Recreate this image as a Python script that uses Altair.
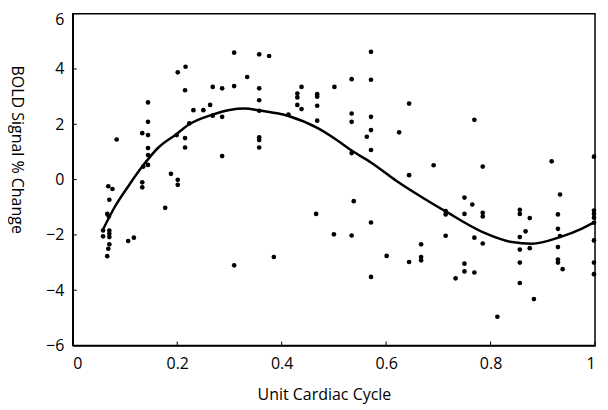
import altair as alt
import pandas as pd

# scatter points (unit cardiac cycle, BOLD % change)
pt_x = [0.058, 0.058, 0.070, 0.070, 0.070, 0.070, 0.068, 0.066, 0.066, 0.069,
        0.070, 0.068, 0.076, 0.084, 0.106, 0.117, 0.133, 0.133, 0.135, 0.144,
        0.144, 0.144, 0.133, 0.144, 0.144, 0.144, 0.177, 0.188, 0.201, 0.201,
        0.199, 0.215, 0.215, 0.223, 0.201, 0.216, 0.215, 0.231, 0.250, 0.263,
        0.268, 0.286, 0.268, 0.286, 0.286, 0.309, 0.309, 0.309, 0.334, 0.357,
        0.376, 0.357, 0.357, 0.357, 0.357, 0.357, 0.357, 0.385, 0.413, 0.430,
        0.430, 0.430, 0.438, 0.438, 0.468, 0.468, 0.468, 0.468, 0.466, 0.501,
        0.500, 0.534, 0.534, 0.534, 0.534, 0.534, 0.538, 0.571, 0.571, 0.571,
        0.571, 0.563, 0.571, 0.571, 0.571, 0.601, 0.625, 0.644, 0.644, 0.644,
        0.667, 0.667, 0.667, 0.691, 0.714, 0.714, 0.714, 0.733, 0.750, 0.750,
        0.750, 0.750, 0.765, 0.769, 0.769, 0.769, 0.785, 0.785, 0.785, 0.785,
        0.813, 0.856, 0.856, 0.856, 0.856, 0.856, 0.856, 0.867, 0.875, 0.875,
        0.883, 0.917, 0.933, 0.929, 0.929, 0.933, 0.929, 0.929, 0.929, 0.938,
        0.998, 0.998, 0.998, 0.998, 0.998, 0.998, 0.998, 0.998]
pt_y = [-1.84, -2.05, -1.84, -1.96, -2.08, -2.34, -2.50, -2.77, -1.24, -1.33,
        -0.73, -0.24, -0.34, 1.45, -2.22, -2.10, -0.10, -0.28, 0.47, 0.53,
        0.89, 1.14, 1.68, 1.61, 2.09, 2.79, -1.02, 0.21, -0.01, -0.19,
        1.61, 1.50, 1.16, 2.03, 3.88, 4.08, 3.23, 2.51, 2.51, 2.70,
        3.35, 3.30, 2.31, 2.27, 0.85, 4.59, 3.38, -3.10, 3.71, 4.53,
        4.47, 3.30, 2.87, 2.49, 1.53, 1.43, 1.16, -2.80, 2.35, 3.11,
        2.97, 2.70, 3.35, 2.55, 3.09, 3.00, 2.67, 2.13, -1.24, 3.35,
        -1.98, 3.63, 2.39, 2.09, 0.96, -2.02, -0.78, 4.62, 3.61, 2.27,
        1.79, 1.55, 1.07, -1.55, -3.52, -2.76, 1.71, 2.75, 0.16, -2.98,
        -2.34, -2.80, -2.92, 0.52, -1.14, -1.26, -2.03, -3.57, -0.65, -1.24,
        -3.04, -3.32, -0.90, 2.16, -2.10, -3.36, 0.47, -1.20, -1.33, -2.31,
        -4.96, -1.09, -1.24, -2.08, -2.53, -3.00, -3.74, -1.87, -1.39, -2.48,
        -4.32, 0.66, -0.54, -1.26, -1.78, -2.04, -2.44, -2.89, -3.00, -3.24,
        0.83, -1.12, -1.24, -1.38, -1.56, -2.20, -3.00, -3.42]

# fitted curve
fit_x = [0.058, 0.080, 0.107, 0.133, 0.164, 0.199, 0.223, 0.266, 0.300, 0.330,
         0.357, 0.413, 0.470, 0.504, 0.534, 0.571, 0.620, 0.674, 0.714, 0.785,
         0.841, 0.879, 0.933, 0.974, 0.999]
fit_y = [-1.80, -1.00, -0.22, 0.47, 1.16, 1.65, 2.00, 2.34, 2.52, 2.57,
         2.50, 2.30, 1.85, 1.45, 1.05, 0.62, -0.05, -0.70, -1.15, -1.90,
         -2.26, -2.32, -2.08, -1.78, -1.54]

x_ticks = [0, 0.2, 0.4, 0.6, 0.8, 1]
y_ticks = [-6, -4, -2, 0, 2, 4, 6]

W, H = 524, 333
FONT = "Open Sans"

pts = pd.DataFrame({"x": pt_x, "y": pt_y})
fit = pd.DataFrame({"x": fit_x, "y": fit_y})
xt = pd.DataFrame({"t": x_ticks})
yt = pd.DataFrame({"t": y_ticks})

xscale = alt.Scale(domain=[0, 1], nice=False, zero=False)
yscale = alt.Scale(domain=[-6, 6], nice=False, zero=False)

xaxis = alt.Axis(title="Unit Cardiac Cycle", values=x_ticks, format="~g",
                 ticks=False, grid=False, labelPadding=10, labelFontSize=16,
                 labelFont=FONT, titleFont=FONT, labelColor="black", titleColor="black",
                 domainColor="black", domainWidth=1.5,
                 titleFontSize=16, titleFontWeight="normal",
                 titleX=252, titleY=49, titleBaseline="middle")
yaxis = alt.Axis(title="BOLD Signal % Change", values=y_ticks, format="d",
                 ticks=False, grid=False, labelPadding=9, labelFontSize=16,
                 labelFont=FONT, titleFont=FONT, labelColor="black", titleColor="black",
                 domainColor="black", domainWidth=1.5,
                 labelOffset={"condition": {"test": "datum.value == 6", "value": 6},
                              "value": 0},
                 titleFontSize=16, titleFontWeight="normal",
                 titleAngle=90, titleX=-56, titleY=136,
                 titleAlign="center", titleBaseline="middle")

points = alt.Chart(pts).mark_point(filled=True, shape="circle", size=22,
                                   color="black", opacity=1).encode(
    x=alt.X("x:Q", scale=xscale, axis=xaxis),
    y=alt.Y("y:Q", scale=yscale, axis=yaxis),
)

curve = alt.Chart(fit).mark_line(color="black", strokeWidth=2.5,
                                 interpolate="monotone").encode(
    x=alt.X("x:Q", scale=xscale),
    y=alt.Y("y:Q", scale=yscale),
)

xticks = alt.Chart(xt).mark_rule(color="black", strokeWidth=1).encode(
    x=alt.X("t:Q", scale=xscale),
    y=alt.value(H), y2=alt.value(H - 4),
)
yticks = alt.Chart(yt).mark_rule(color="black", strokeWidth=1).encode(
    y=alt.Y("t:Q", scale=yscale),
    x=alt.value(0), x2=alt.value(4),
)

chart = alt.layer(points, curve, xticks, yticks).properties(
    width=W, height=H,
    background="white",
    autosize=alt.AutoSizeParams(type="none"),
    padding={"left": 65, "top": 5, "right": 5, "bottom": 62},
).configure_view(
    stroke="black", strokeWidth=1.5
)

chart.save("out.html", embed_options={"renderer": "svg", "actions": False})
